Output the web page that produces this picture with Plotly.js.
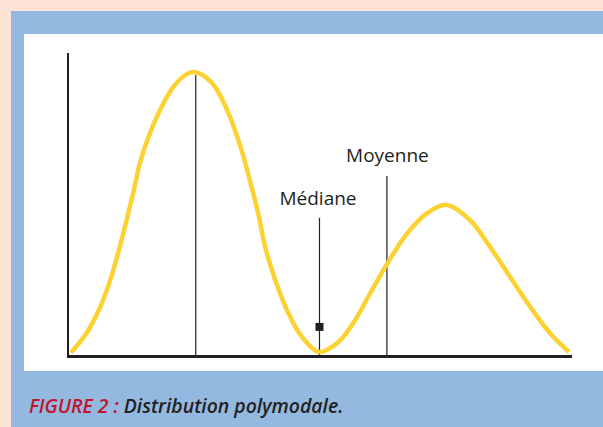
<!DOCTYPE html>
<html>
<head>
<meta charset="utf-8">
<script src="https://cdn.plot.ly/plotly-3.0.1.min.js"></script>
<style>html,body{margin:0;padding:0;background:#fde3d6;}#chart{width:603px;height:427px;}</style>
</head>
<body>
<div id="chart"></div>
<script>
// Curve (x: 0..10 along the axis, y: 0..1 height)
const curveX = [0.04, 0.35, 0.62, 0.82, 1.01, 1.18, 1.29, 1.41, 1.58, 1.81, 2.07, 2.34, 2.50, 2.84, 3.17, 3.43, 3.63, 3.76, 3.90, 4.10, 4.36, 4.63, 4.96, 5.19, 5.43, 5.69, 5.98, 6.32, 6.72, 7.12, 7.51, 7.97, 8.37, 8.77, 9.17, 9.56, 9.94];
const curveY = [0.008, 0.073, 0.159, 0.248, 0.358, 0.470, 0.546, 0.636, 0.722, 0.811, 0.887, 0.930, 0.937, 0.901, 0.801, 0.679, 0.556, 0.470, 0.358, 0.248, 0.139, 0.060, 0.010, 0.023, 0.056, 0.116, 0.202, 0.301, 0.402, 0.47, 0.497, 0.447, 0.358, 0.258, 0.159, 0.073, 0.01];

// Reference lines: mode, médiane, moyenne
const refNames = ["Mode", "Médiane", "Moyenne"];
const refX = [2.52, 4.98, 6.32];
const refTop = [0.927, 0.454, 0.593];
const labelY = [1.003, 0.513, 0.656];
const labelX = [2.50, 4.95, 6.33];
const medianMarkX = [4.98];
const medianMarkY = [0.093];

const caption = '<span style="color:#c1152c">FIGURE 2 :</span> Distribution polymodale.';

const ink = '#231f20';
const traces = [];
refNames.forEach((n, i) => {
  traces.push({x: [refX[i], refX[i]], y: [0, refTop[i]], mode: 'lines', line: {color: ink, width: 1.2}, hoverinfo: 'skip', cliponaxis: false});
});
traces.push({x: curveX, y: curveY, mode: 'lines', line: {color: '#fcd233', width: 4.5, shape: 'spline', smoothing: 1}, cliponaxis: false, hoverinfo: 'skip'});
traces.push({x: medianMarkX, y: medianMarkY, mode: 'markers', marker: {symbol: 'square', size: 8, color: ink}, cliponaxis: false, hoverinfo: 'skip'});
traces.push({x: labelX, y: labelY, text: refNames, mode: 'text', textposition: 'middle center', textfont: {family: 'Open Sans', size: 19, color: ink}, cliponaxis: false, hoverinfo: 'skip'});

const W = 503, H = 302, L = 69, B = 72, T = 53;
const px = v => (v - L) / W;
const py = v => (355 - v) / H;

const layout = {
  width: 603, height: 427,
  margin: {l: L, r: 31, t: T, b: B, pad: 0},
  paper_bgcolor: '#fde3d6',
  plot_bgcolor: 'rgba(0,0,0,0)',
  showlegend: false,
  xaxis: {range: [0, 10], showline: true, linecolor: ink, linewidth: 2.5, showgrid: false, zeroline: false, showticklabels: false, ticks: '', fixedrange: true},
  yaxis: {range: [0, 1], showline: true, linecolor: ink, linewidth: 2.5, showgrid: false, zeroline: false, showticklabels: false, ticks: '', fixedrange: true},
  shapes: [
    {type: 'rect', xref: 'paper', yref: 'paper', x0: px(11), x1: px(610), y0: py(434), y1: py(11), fillcolor: '#94b9e0', line: {width: 0}, layer: 'below'},
    {type: 'rect', xref: 'paper', yref: 'paper', x0: px(24), x1: px(610), y0: py(371), y1: py(34), fillcolor: '#ffffff', line: {width: 0}, layer: 'below'}
  ],
  annotations: [
    {xref: 'paper', yref: 'paper', x: px(27), y: py(405), xanchor: 'left', yanchor: 'middle', showarrow: false, text: caption,
     font: {family: 'Open Sans', size: 19.4, color: '#231f20', style: 'italic', weight: 600}}
  ]
};

Plotly.newPlot('chart', traces, layout, {displayModeBar: false, staticPlot: true});
</script>
</body>
</html>
